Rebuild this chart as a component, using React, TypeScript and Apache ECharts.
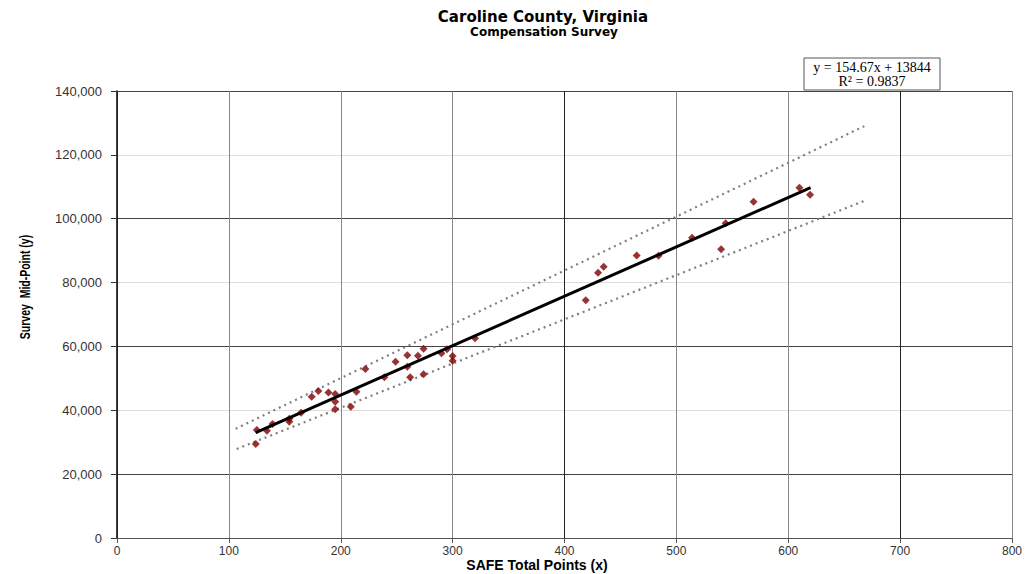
import React, { useEffect, useRef } from "react";
import * as echarts from "echarts";

// SAFE total points (x) and survey mid-point (y)
const pointsX = [124, 125, 134, 139, 154, 154, 164.5, 174, 180, 189, 195, 195, 195, 209, 214, 222, 239, 249, 259.5, 259.5, 262, 269, 274, 274, 290, 295, 300, 300, 320, 419, 430, 435, 464.5, 484, 514, 540, 544, 569, 610, 619.5];
const pointsY = [29440, 33830, 33610, 35700, 37370, 36420, 39240, 44260, 46040, 45570, 45100, 42690, 40310, 41120, 45820, 52930, 50330, 55220, 57220, 53650, 50330, 57100, 59290, 51270, 57850, 59100, 57000, 55530, 62540, 74450, 83090, 84970, 88480, 88420, 94050, 90420, 98560, 105330, 109710, 107520];

// Linear trend y = 154.67x + 13844, endpoints
const trendX = [124, 620];
const trendY = [33024, 109739];
// Dotted band lines
const upperX = [106, 668];
const upperY = [34200, 129000];
const lowerX = [107, 668];
const lowerY = [27900, 105600];

const xTicks = [0, 100, 200, 300, 400, 500, 600, 700, 800];
const yTicks = [0, 20000, 40000, 60000, 80000, 100000, 120000, 140000];

const title = "Caroline County, Virginia";
const subtitle = "Compensation Survey";
const eqLine1 = "y = 154.67x + 13844";
const eqLine2 = "R² = 0.9837";

const zip = (a: number[], b: number[]) => a.map((v, i) => [v, b[i]]);

export default function App() {
  const ref = useRef<HTMLDivElement>(null);
  useEffect(() => {
    if (!ref.current) return;
    const chart = echarts.init(ref.current, undefined, { renderer: "svg" });
    const font = "'Liberation Sans', Arial, sans-serif";
    const wide = "'DejaVu Sans', 'Liberation Sans', sans-serif";
    const serif = "'Liberation Serif', 'Times New Roman', serif";
    chart.setOption({
      animation: false,
      backgroundColor: "#ffffff",
      grid: { left: 117, right: 18, top: 91, bottom: 36 },
      xAxis: {
        type: "value",
        min: xTicks[0],
        max: xTicks[xTicks.length - 1],
        interval: 100,
        axisLine: { show: true, lineStyle: { color: "#555", width: 1 } },
        axisTick: { show: true, length: 5, inside: false, lineStyle: { color: "#555" } },
        axisLabel: { color: "#333", fontFamily: font, fontSize: 12, margin: 7 },
        splitLine: {
          show: true,
          lineStyle: { color: ["#888", "#888", "#888", "#888", "#222", "#888", "#888", "#222", "#888"], width: 1 },
        },
      },
      yAxis: {
        type: "value",
        min: yTicks[0],
        max: yTicks[yTicks.length - 1],
        interval: 20000,
        axisLine: { show: true, lineStyle: { color: "#000", width: 1.5 } },
        axisTick: { show: true, length: 6, inside: false, lineStyle: { color: "#333" } },
        axisLabel: {
          color: "#333",
          fontFamily: font,
          fontSize: 13,
          margin: 15,
          formatter: (v: number) => v.toLocaleString("en-US"),
        },
        splitLine: { show: true, lineStyle: { color: ["#dddddd", "#444"], width: 1 } },
      },
      series: [
        {
          type: "line",
          data: zip(upperX, upperY),
          showSymbol: false,
          symbol: "none",
          lineStyle: { color: "#7f7f7f", width: 2.2, type: [2, 4] },
          z: 2,
        },
        {
          type: "line",
          data: zip(lowerX, lowerY),
          showSymbol: false,
          symbol: "none",
          lineStyle: { color: "#7f7f7f", width: 2.2, type: [2, 4] },
          z: 2,
        },
        {
          type: "scatter",
          data: zip(pointsX, pointsY),
          symbol: "diamond",
          symbolSize: 8,
          itemStyle: { color: "#800000" },
          z: 3,
        },
        {
          type: "line",
          data: zip(trendX, trendY),
          showSymbol: false,
          symbol: "none",
          lineStyle: { color: "#000", width: 3 },
          z: 4,
        },
      ],
      graphic: [
        {
          type: "text",
          x: 543,
          y: 9,
          style: { text: title, font: `bold 15px ${wide}`, fill: "#000", textAlign: "center" },
        },
        {
          type: "text",
          x: 544,
          y: 26,
          style: { text: subtitle, font: `bold 12px ${wide}`, fill: "#000", textAlign: "center" },
        },
        {
          type: "text",
          x: 537,
          y: 558,
          style: { text: "SAFE Total Points (x)", font: `bold 14px ${font}`, fill: "#000", textAlign: "center" },
        },
        {
          type: "text",
          x: 18,
          y: 287,
          rotation: Math.PI / 2,
          scaleX: 0.75,
          style: {
            text: "Survey  Mid-Point (y)",
            font: `bold 14px ${font}`,
            fill: "#000",
            textAlign: "center",
            textVerticalAlign: "top",
          },
        },
        {
          type: "rect",
          shape: { x: 804, y: 58, width: 136, height: 32 },
          style: { fill: "#fff", stroke: "#555", lineWidth: 1 },
        },
        {
          type: "text",
          x: 872,
          y: 60,
          style: { text: eqLine1, font: `14px ${serif}`, fill: "#000", textAlign: "center" },
        },
        {
          type: "text",
          x: 872,
          y: 74,
          style: { text: eqLine2, font: `14px ${serif}`, fill: "#000", textAlign: "center" },
        },
      ],
    });
    return () => chart.dispose();
  }, []);
  return <div ref={ref} style={{ width: 1030, height: 574, position: "absolute", left: 0, top: 0 }} />;
}
